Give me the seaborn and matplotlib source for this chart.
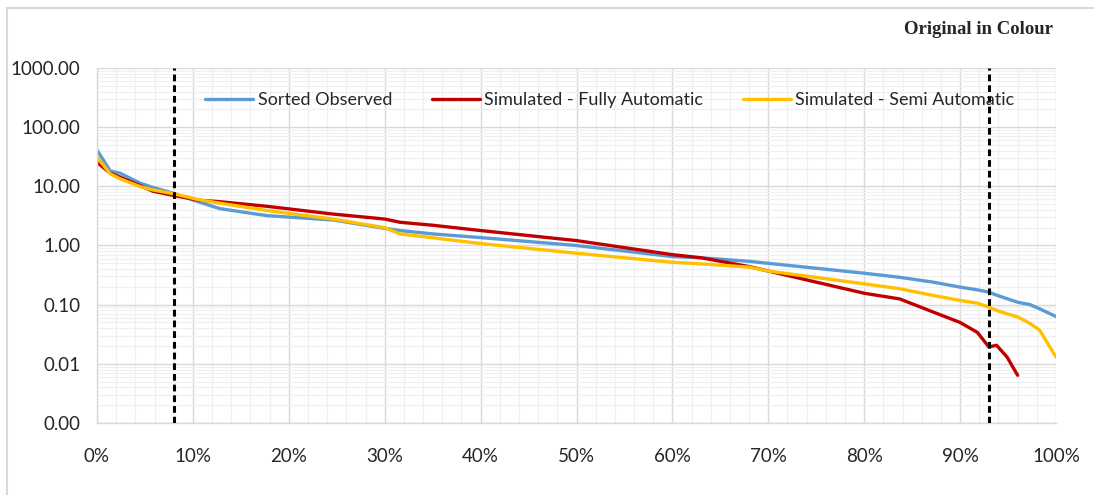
import numpy as np
import pandas as pd
import matplotlib
matplotlib.use("Agg")
import matplotlib.pyplot as plt
import matplotlib.ticker as mticker
from matplotlib.patches import Rectangle
import seaborn as sns

# ---- data ----
pct = [0, 1.4, 2.4, 4.5, 5.8, 8, 10.7, 12.8, 17.7, 24.6, 30, 31.6, 35, 40, 50,
       60, 63, 68, 70, 80, 83.7, 87.2, 90, 91.8, 93, 93.8, 94.9, 96, 97.3, 98.3, 100]
observed = [41, 18, 16.7, 11.3, 9.6, 7.6, 5.4, 4.2, 3.2, 2.7, 1.95, 1.79, 1.57, 1.36, 1.0,
            0.65, 0.62, 0.54, 0.50, 0.34, 0.29, 0.24, 0.198, 0.178, 0.163, 0.145, 0.126,
            0.11, 0.10, 0.085, 0.063]
fully_auto = [25.5, 16.6, 14.3, 10.3, 8.3, 7.0, 5.8, 5.5, 4.6, 3.4, 2.8, 2.47, 2.2, 1.79, 1.21,
              0.70, 0.62, 0.44, 0.37, 0.156, 0.125, 0.075, 0.05, 0.034, 0.0193, 0.0206, 0.013,
              0.0064]
semi_auto = [31, 16.2, 13.4, 9.9, 8.7, 7.5, 5.9, 5.2, 3.9, 2.8, 2.0, 1.57, 1.35, 1.08, 0.74,
             0.52, 0.49, 0.43, 0.37, 0.225, 0.186, 0.143, 0.118, 0.106, 0.091, 0.08, 0.07,
             0.062, 0.048, 0.037, 0.013]
series_names = ["Sorted Observed", "Simulated - Fully Automatic", "Simulated - Semi Automatic"]
series_colors = ["#5B9BD5", "#C00000", "#FFC000"]
cutoffs = [8, 93]
x_ticks = list(range(0, 101, 10))
x_tick_labels = [f"{t}%" for t in x_ticks]
y_ticks = [0.001, 0.01, 0.1, 1, 10, 100, 1000]
y_tick_labels = ["0.00", "0.01", "0.10", "1.00", "10.00", "100.00", "1000.00"]
title_text = "Original in Colour"

rows = []
for name, vals in zip(series_names, [observed, fully_auto, semi_auto]):
    for x, v in zip(pct[:len(vals)], vals):
        rows.append({"pct": x, "value": v, "series": name})
df = pd.DataFrame(rows)

sns.set_theme(style="white")
plt.rcParams["font.family"] = ["Lato", "DejaVu Sans"]

fig = plt.figure(figsize=(10.94, 4.95), dpi=100)
ax = fig.add_axes([97/1094, 1-423/495, (1056-97)/1094, (423-68)/495])

# figure frame (top + left)
fig.add_artist(Rectangle((7/1094, -0.1), 1.2, 1.1 - 8/495, transform=fig.transFigure,
                         fill=False, edgecolor="#D9D9D9", linewidth=1.5))

sns.lineplot(data=df, x="pct", y="value", hue="series", hue_order=series_names,
             palette=series_colors, linewidth=2.4, ax=ax, legend=True, sort=False)

ax.set_yscale("log")
ax.set_xlim(0, 100)
ax.set_ylim(0.001, 1000)

ax.set_xticks(x_ticks)
ax.set_xticklabels(x_tick_labels)
ax.xaxis.set_minor_locator(mticker.MultipleLocator(2))
ax.set_yticks(y_ticks)
ax.set_yticklabels(y_tick_labels)
ax.yaxis.set_minor_locator(mticker.LogLocator(base=10, subs=np.arange(2, 10)))
ax.yaxis.set_minor_formatter(mticker.NullFormatter())

ax.grid(which="major", color="#D9D9D9", linewidth=1.0)
ax.grid(which="minor", color="#F0F0F0", linewidth=0.9)
ax.set_axisbelow(True)
ax.tick_params(axis="both", which="both", length=0, labelsize=13.5, colors="#262626")
ax.tick_params(axis="y", pad=12)
ax.tick_params(axis="x", pad=18)
for s in ax.spines.values():
    s.set_color("#D9D9D9")
    s.set_linewidth(1.0)
ax.spines["top"].set_visible(False)
ax.spines["right"].set_visible(False)

for c in cutoffs:
    ax.axvline(c, color="black", linestyle=(0, (2.2, 1.3)), linewidth=2.2, zorder=5)

ax.set_xlabel("")
ax.set_ylabel("")

leg = ax.legend(loc="center", bbox_to_anchor=(0.535, 0.91), ncol=3, frameon=False,
                fontsize=13, handlelength=2.65, columnspacing=2.2, handletextpad=0.25)
for line in leg.get_lines():
    line.set_linewidth(2.4)

fig.text(1053/1094, 1-30/495, title_text, ha="right", va="center",
         fontsize=13.5, fontweight="bold", family=["Liberation Serif", "DejaVu Serif"])

fig.savefig("out.png", dpi=100)
